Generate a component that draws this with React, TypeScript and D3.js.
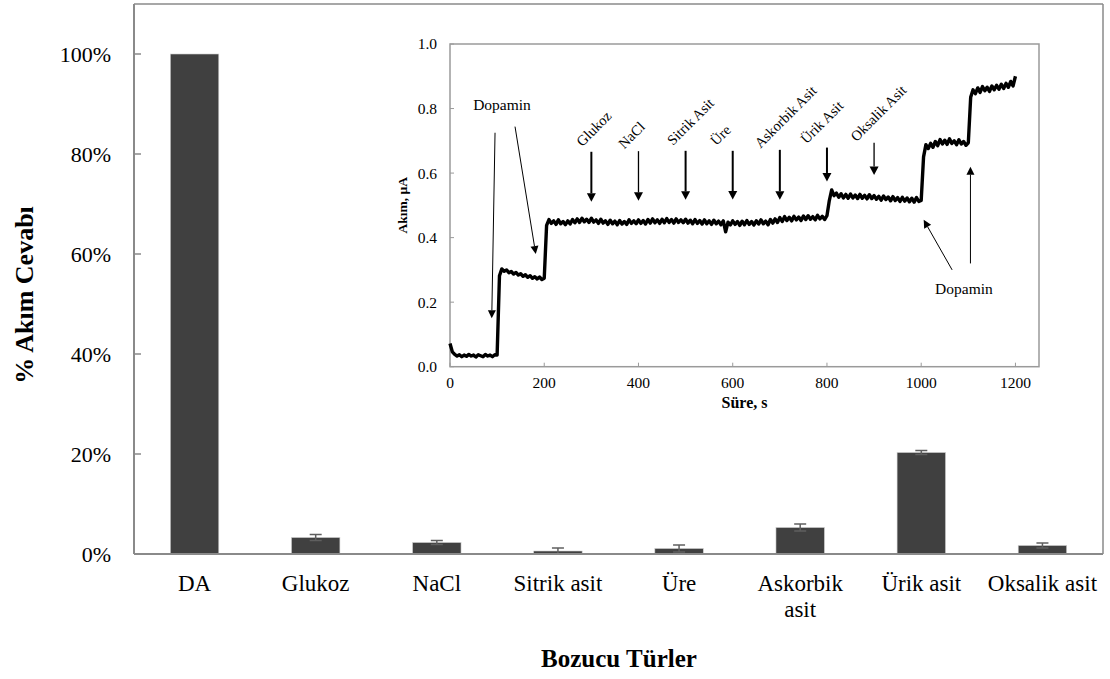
import React from "react";
import * as d3 from "d3";

// ---------- main bar chart data ----------
const categories = ["DA", "Glukoz", "NaCl", "Sitrik asit", "Üre", "Askorbik asit", "Ürik asit", "Oksalik asit"];
const categoryLines = [["DA"], ["Glukoz"], ["NaCl"], ["Sitrik asit"], ["Üre"], ["Askorbik", "asit"], ["Ürik asit"], ["Oksalik asit"]];
const responses = [1.0, 0.033, 0.023, 0.006, 0.011, 0.053, 0.203, 0.017];
const errors = [0, 0.006, 0.004, 0.006, 0.007, 0.007, 0.004, 0.005];
const yTicks = [0, 0.2, 0.4, 0.6, 0.8, 1.0];

// ---------- inset amperogram data (5 s sampling) ----------
const sampleStep = 5;
const trace000 = [0.072, 0.046, 0.038, 0.033, 0.037, 0.031, 0.036, 0.032, 0.038, 0.033, 0.036, 0.030, 0.037, 0.034, 0.031, 0.038, 0.033, 0.036, 0.031, 0.037];
const trace100 = [0.036, 0.282, 0.303, 0.296, 0.300, 0.291, 0.295, 0.287, 0.292, 0.284, 0.288, 0.280, 0.285, 0.277, 0.282, 0.274, 0.279, 0.272, 0.278, 0.270];
const trace200 = [0.274, 0.438, 0.456, 0.444, 0.452, 0.441, 0.455, 0.443, 0.450, 0.440, 0.452, 0.442, 0.456, 0.446, 0.458, 0.447, 0.460, 0.449, 0.457, 0.447];
const trace300 = [0.460, 0.448, 0.455, 0.444, 0.457, 0.445, 0.452, 0.441, 0.454, 0.443, 0.451, 0.440, 0.453, 0.442, 0.450, 0.441, 0.455, 0.444, 0.452, 0.443];
const trace400 = [0.455, 0.444, 0.453, 0.442, 0.456, 0.445, 0.458, 0.446, 0.455, 0.444, 0.457, 0.446, 0.459, 0.447, 0.456, 0.445, 0.458, 0.447, 0.455, 0.446];
const trace500 = [0.457, 0.445, 0.454, 0.443, 0.456, 0.444, 0.453, 0.442, 0.455, 0.443, 0.452, 0.441, 0.454, 0.443, 0.451, 0.440, 0.452, 0.418, 0.448, 0.439];
const trace600 = [0.452, 0.441, 0.450, 0.438, 0.451, 0.440, 0.453, 0.441, 0.450, 0.439, 0.452, 0.442, 0.455, 0.443, 0.451, 0.440, 0.456, 0.445, 0.458, 0.447];
const trace700 = [0.462, 0.450, 0.465, 0.453, 0.463, 0.452, 0.466, 0.455, 0.464, 0.453, 0.467, 0.456, 0.468, 0.457, 0.465, 0.455, 0.469, 0.458, 0.466, 0.456];
const trace800 = [0.468, 0.515, 0.548, 0.530, 0.538, 0.525, 0.536, 0.523, 0.534, 0.522, 0.535, 0.523, 0.532, 0.521, 0.534, 0.522, 0.531, 0.520, 0.533, 0.521];
const trace900 = [0.530, 0.519, 0.528, 0.516, 0.529, 0.518, 0.526, 0.514, 0.527, 0.515, 0.524, 0.512, 0.525, 0.513, 0.523, 0.511, 0.522, 0.510, 0.524, 0.512];
const trace1000 = [0.515, 0.650, 0.688, 0.676, 0.692, 0.680, 0.698, 0.685, 0.704, 0.690, 0.702, 0.689, 0.706, 0.692, 0.700, 0.688, 0.703, 0.690, 0.698, 0.686];
const trace1100 = [0.694, 0.835, 0.858, 0.846, 0.864, 0.850, 0.868, 0.855, 0.866, 0.853, 0.870, 0.858, 0.872, 0.860, 0.875, 0.862, 0.878, 0.866, 0.884, 0.870];
const trace1200 = [0.900];

const insetXTicks = [0, 200, 400, 600, 800, 1000, 1200];
const insetYTicks = [0, 0.2, 0.4, 0.6, 0.8, 1.0];

// interferent additions: label, time of addition, arrow from/to current, label centre (t, current)
const eventLabels = ["Glukoz", "NaCl", "Sitrik Asit", "Üre", "Askorbik Asit", "Ürik Asit", "Oksalik Asit"];
const eventTimes = [300, 400, 500, 600, 700, 800, 900];
const eventArrowTop = [0.666, 0.668, 0.669, 0.669, 0.672, 0.679, 0.694];
const eventArrowTip = [0.511, 0.514, 0.517, 0.518, 0.517, 0.574, 0.594];
const eventLabelT = [305, 385, 510, 574, 712, 789, 909];
const eventLabelV = [0.738, 0.718, 0.760, 0.718, 0.775, 0.758, 0.786];
const eventStroke = [2, 1.3, 2, 2, 2, 2, 1.3];

// dopamine annotations: [t0, v0, tTip, vTip]
const dopaminArrows = [
  [95.6, 0.725, 88.6, 0.150],
  [138, 0.744, 182, 0.349],
  [1065.6, 0.300, 1005.3, 0.455],
  [1104.5, 0.320, 1104.5, 0.620],
];
const dopaminLabels = [
  [110.4, 0.811],
  [1090.7, 0.241],
];

const FONT = "Liberation Serif, DejaVu Serif, serif";

function Arrow({ x1, y1, x2, y2, w, head, half }) {
  const dx = x2 - x1;
  const dy = y2 - y1;
  const len = Math.sqrt(dx * dx + dy * dy);
  const ux = dx / len;
  const uy = dy / len;
  const bx = x2 - ux * head;
  const by = y2 - uy * head;
  const nx = -uy;
  const ny = ux;
  return (
    <g>
      <line x1={x1} y1={y1} x2={bx} y2={by} stroke="#000" strokeWidth={w} />
      <polygon
        points={`${x2},${y2} ${bx + nx * half},${by + ny * half} ${bx - nx * half},${by - ny * half}`}
        fill="#000"
      />
    </g>
  );
}

export default function App() {
  const W = 1110;
  const H = 679;
  const left = 134, right = 1103, top = 4, bottom = 554;

  const x = d3.scaleBand().domain(categories).range([left, right]).paddingInner(0.6).paddingOuter(0.3);
  const y = d3.scaleLinear().domain([0, 1.1]).range([bottom, top]);
  const pct = d3.format(".0%");

  // inset
  const iL = 450, iR = 1039, iT = 44, iB = 366.7;
  const xi = d3.scaleLinear().domain([0, 1250]).range([iL, iR]);
  const yi = d3.scaleLinear().domain([0, 1]).range([iB, iT]);
  const f1 = d3.format(".1f");

  const traceValues = [
    ...trace000, ...trace100, ...trace200, ...trace300, ...trace400, ...trace500,
    ...trace600, ...trace700, ...trace800, ...trace900, ...trace1000, ...trace1100, ...trace1200,
  ];
  const trace = traceValues.map((v, i) => ({ t: i * sampleStep, v }));
  const line = d3.line().x((d) => xi(d.t)).y((d) => yi(d.v));

  const capHalf = 6;
  const axisGray = "#8a8a8a";
  const ts = { fontFamily: FONT };

  return (
    <svg
      width={W}
      height={H}
      style={{ position: "absolute", left: 0, top: 0, background: "#fff", fontFamily: FONT }}
    >
      <rect x={0} y={0} width={W} height={H} fill="#fff" />

      {/* main plot frame */}
      <line x1={left} y1={top} x2={right} y2={top} stroke={axisGray} strokeWidth={1.5} />
      <line x1={right} y1={top} x2={right} y2={bottom} stroke={axisGray} strokeWidth={1.5} />

      {/* bars */}
      {categories.map((c, i) => (
        <rect
          key={c}
          x={x(c)}
          y={y(responses[i])}
          width={x.bandwidth()}
          height={bottom - y(responses[i])}
          fill="#404040"
          stroke="#d0d0d0"
          strokeWidth={0.6}
        />
      ))}
      {/* error bars */}
      {categories.map((c, i) => {
        if (errors[i] <= 0) return null;
        const cx = x(c) + x.bandwidth() / 2;
        const yTop = y(responses[i] + errors[i]);
        const yBot = y(responses[i] - errors[i]);
        return (
          <g key={"e" + c} stroke="#5f5f5f" strokeWidth={1.5}>
            <line x1={cx} y1={yTop} x2={cx} y2={yBot} />
            <line x1={cx - capHalf} y1={yTop} x2={cx + capHalf} y2={yTop} />
            <line x1={cx - capHalf} y1={yBot} x2={cx + capHalf} y2={yBot} />
          </g>
        );
      })}

      {/* y axis */}
      <line x1={left} y1={top} x2={left} y2={bottom} stroke={axisGray} strokeWidth={2} />
      <line x1={left} y1={bottom} x2={right} y2={bottom} stroke={axisGray} strokeWidth={2} />
      {yTicks.map((t) => (
        <g key={t}>
          <line x1={left} y1={y(t)} x2={left + 7} y2={y(t)} stroke={axisGray} strokeWidth={1.5} />
          <text x={111} y={y(t)} dy="0.35em" textAnchor="end" fontSize={22} fill="#000" style={ts}>
            {pct(t)}
          </text>
        </g>
      ))}

      {/* category labels */}
      {categories.map((c, i) => (
        <text key={"l" + c} x={x(c) + x.bandwidth() / 2} y={591} textAnchor="middle" fontSize={23} fill="#000" style={ts}>
          {categoryLines[i].map((ln, j) => (
            <tspan key={j} x={x(c) + x.bandwidth() / 2} dy={j === 0 ? 0 : 26}>
              {ln}
            </tspan>
          ))}
        </text>
      ))}

      {/* axis titles */}
      <text x={(left + right) / 2 + 0.5} y={667} textAnchor="middle" fontSize={25} fontWeight="bold" fill="#000" style={ts}>
        Bozucu Türler
      </text>
      <text
        transform={`translate(33,${(top + bottom) / 2 + 16}) rotate(-90)`}
        textAnchor="middle"
        fontSize={26}
        fontWeight="bold"
        fill="#000"
        style={ts}
      >
        % Akım Cevabı
      </text>

      {/* ---------- inset ---------- */}
      <rect x={iL} y={iT} width={iR - iL} height={iB - iT} fill="#fff" stroke="#9a9a9a" strokeWidth={1.5} />
      {insetXTicks.map((t) => (
        <g key={"xt" + t}>
          <line x1={xi(t)} y1={iB} x2={xi(t)} y2={iB - 4} stroke="#9a9a9a" strokeWidth={1} />
          <text x={xi(t)} y={388} textAnchor="middle" fontSize={15.5} fill="#000" style={ts}>
            {t}
          </text>
        </g>
      ))}
      {insetYTicks.map((t) => (
        <g key={"yt" + t}>
          <line x1={iL} y1={yi(t)} x2={iL + 4} y2={yi(t)} stroke="#9a9a9a" strokeWidth={1} />
          <text x={437} y={yi(t)} dy="0.35em" textAnchor="end" fontSize={15.5} fill="#000" style={ts}>
            {f1(t)}
          </text>
        </g>
      ))}
      <text x={(iL + iR) / 2} y={408} textAnchor="middle" fontSize={16} fontWeight="bold" fill="#000" style={ts}>
        Süre, s
      </text>
      <text
        transform={`translate(407,${(iT + iB) / 2}) rotate(-90)`}
        textAnchor="middle"
        fontSize={13.5}
        fontWeight="bold"
        fill="#000"
        style={ts}
      >
        Akım, µA
      </text>

      {/* trace */}
      <path d={line(trace)} fill="none" stroke="#000" strokeWidth={3.4} strokeLinejoin="round" />

      {/* event arrows and labels */}
      {eventLabels.map((lab, i) => (
        <g key={"ev" + lab}>
          <Arrow
            x1={xi(eventTimes[i])}
            y1={yi(eventArrowTop[i])}
            x2={xi(eventTimes[i])}
            y2={yi(eventArrowTip[i])}
            w={eventStroke[i]}
            head={8.5}
            half={4.5}
          />
          <text
            transform={`translate(${xi(eventLabelT[i])},${yi(eventLabelV[i])}) rotate(-45)`}
            textAnchor="middle"
            dy="0.35em"
            fontSize={14.5}
            fill="#000"
            style={ts}
          >
            {lab}
          </text>
        </g>
      ))}

      {/* dopamine arrows */}
      {dopaminArrows.map((a, i) => (
        <Arrow key={"da" + i} x1={xi(a[0])} y1={yi(a[1])} x2={xi(a[2])} y2={yi(a[3])} w={1} head={8} half={4} />
      ))}
      {dopaminLabels.map((p, i) => (
        <text key={"dl" + i} x={xi(p[0])} y={yi(p[1])} dy="0.35em" textAnchor="middle" fontSize={15.5} fill="#000" style={ts}>
          Dopamin
        </text>
      ))}
    </svg>
  );
}
